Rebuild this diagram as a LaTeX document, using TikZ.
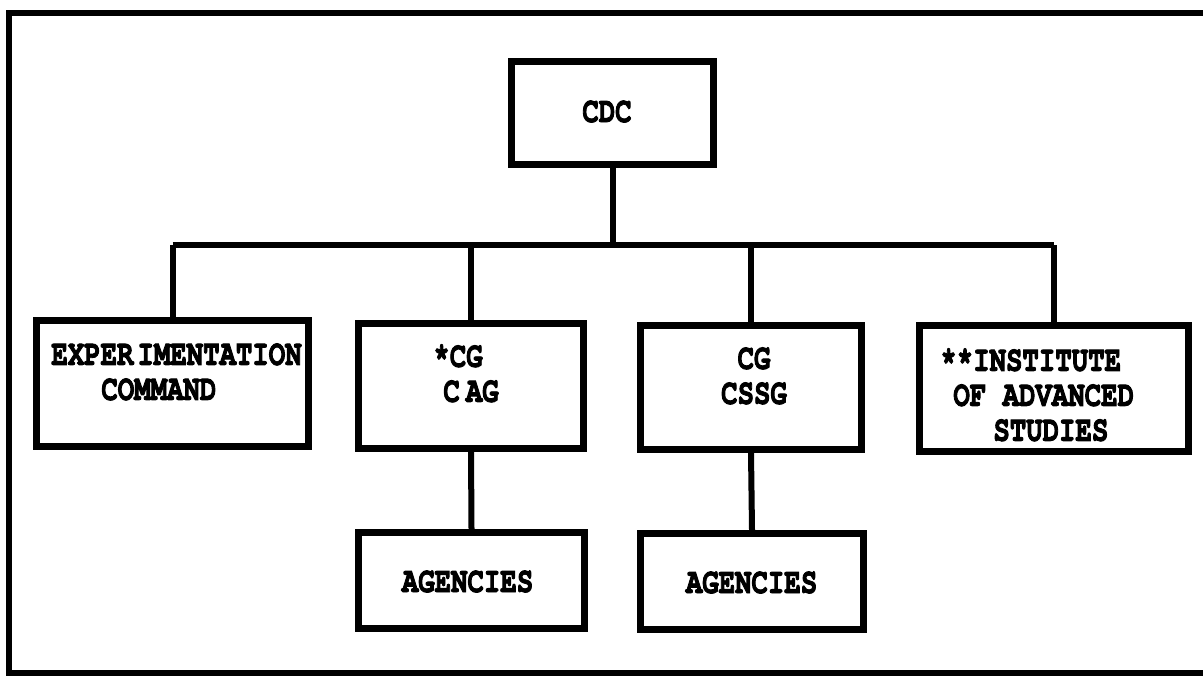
\documentclass[tikz,border=0pt]{standalone}
\usepackage{fontspec}
\newfontfamily\tw{texgyrecursor-bold}[Extension=.otf,FakeStretch=0.76,FakeBold=2.5]
\begin{document}
\begin{tikzpicture}[x=0.5pt,y=-0.5pt,
  box/.style={draw,line width=3.5pt,rectangle,inner sep=0pt},
  lbl/.style={inner sep=0pt,font=\tw\fontsize{18}{17.5}\selectfont},
  conn/.style={line width=3pt}]
\useasboundingbox (0,0) rectangle (1203,676);
% outer frame
\draw[line width=3.2pt] (1203,13) -- (9,13) -- (9,673) -- (1203,673);
% boxes
\node[box,minimum width=101pt,minimum height=51.5pt] (cdc) at (612.5,113) {};
\node[box,minimum width=136pt,minimum height=63pt] (exp) at (172.5,383.5) {};
\node[box,minimum width=112.5pt,minimum height=62.5pt] (cag) at (471,386) {};
\node[box,minimum width=110.5pt,minimum height=62pt] (cssg) at (751,387.5) {};
\node[box,minimum width=134.5pt,minimum height=63pt] (ias) at (1054,388.5) {};
\node[box,minimum width=113pt,minimum height=48pt] (ag1) at (471.5,580.5) {};
\node[box,minimum width=111.5pt,minimum height=48pt] (ag2) at (752,581.5) {};
% labels
\node[lbl,anchor=base] (cdcT) at (607,122) {CDC};
\node[lbl,anchor=north west,align=left] (expT) at (51,343) {{\spaceskip=2pt\relax EXPER IMENTATION}\\\hspace*{25pt}COMMAND};
\node[lbl,anchor=north west,align=left] (cagT) at (433,344) {*CG\\\hspace*{5pt}{\spaceskip=3pt\relax C AG}};
\node[lbl,anchor=north,align=center] (cssgT) at (754,347) {CG\\CSSG};
\node[lbl,anchor=north west,align=left] (iasT) at (940,348) {**INSTITUTE\\\hspace*{6.5pt}OF ADVANCED\\\hspace*{26.5pt}STUDIES};
\node[lbl,anchor=base] (ag1T) at (467.5,592) {AGENCIES};
\node[lbl,anchor=base] (ag2T) at (751.5,593) {AGENCIES};
% connectors
\coordinate (bus) at (612.5,245);
\draw[conn] (cdc.south) -- (cdc.south |- bus);
\draw[conn] (exp.north |- bus) -- (ias.north |- bus);
\foreach \c in {exp,cag,cssg,ias}{
  \draw[conn] (\c.north |- bus) -- (\c.north);
}
\draw[conn] (cag.south) -- (ag1.north);
\draw[conn] (cssg.south) -- (ag2.north);
\end{tikzpicture}
\end{document}
